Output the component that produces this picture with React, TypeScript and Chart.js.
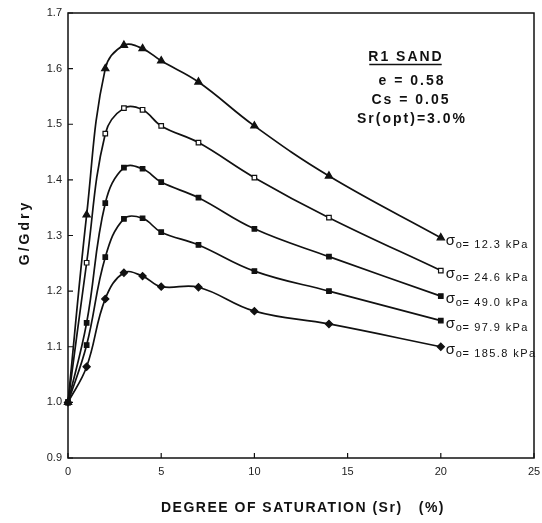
import React, { useEffect, useRef } from "react";
import { Chart, registerables } from "chart.js";

Chart.register(...registerables);

// Degree of saturation Sr (%)
const saturation = [0, 1, 2, 3, 4, 5, 7, 10, 14, 20];

// G/Gdry for each confining stress
const g12_3 = [1.0, 1.337, 1.6, 1.642, 1.636, 1.614, 1.576, 1.497, 1.407, 1.296];
const g24_6 = [1.0, 1.251, 1.483, 1.529, 1.526, 1.497, 1.467, 1.404, 1.332, 1.237];
const g49_0 = [1.0, 1.143, 1.358, 1.422, 1.42, 1.396, 1.368, 1.312, 1.262, 1.191];
const g97_9 = [1.0, 1.103, 1.261, 1.33, 1.331, 1.306, 1.283, 1.236, 1.2, 1.147];
const g185_8 = [1.0, 1.064, 1.186, 1.233, 1.227, 1.208, 1.207, 1.164, 1.141, 1.1];

const stressLabels = ["12.3", "24.6", "49.0", "97.9", "185.8"];
const seriesValues = [g12_3, g24_6, g49_0, g97_9, g185_8];
const markerStyles = ["triangle", "rect", "rect", "rect", "rectRot"];
const markerFills = ["#111", "#fff", "#111", "#111", "#111"];
const markerRadius = [4.2, 3.2, 3.2, 3.2, 3.6];

const xTickValues = [0, 5, 10, 15, 20, 25];
const yTickValues = [0.9, 1.0, 1.1, 1.2, 1.3, 1.4, 1.5, 1.6, 1.7];

const xTitle = "DEGREE OF SATURATION (Sr)   (%)";
const yTitle = "G/Gdry";
const noteLines = ["R1 SAND", "e = 0.58", "Cs = 0.05", "Sr(opt)=3.0%"];

const FONT = "'Liberation Sans', Arial, Helvetica, sans-serif";

const decorPlugin = {
  id: "decor",
  afterDraw(chart: any) {
    const { ctx, chartArea } = chart;
    const { left, top, right, bottom } = chartArea;
    const xs = chart.scales.x;
    const ys = chart.scales.y;
    ctx.save();
    // frame
    ctx.strokeStyle = "#111";
    ctx.lineWidth = 1.5;
    ctx.strokeRect(left, top, right - left, bottom - top);
    // inward ticks
    ctx.lineWidth = 1.2;
    ctx.beginPath();
    for (const v of xTickValues) {
      const px = xs.getPixelForValue(v);
      ctx.moveTo(px, bottom);
      ctx.lineTo(px, bottom - 5);
    }
    for (const v of yTickValues) {
      const py = ys.getPixelForValue(v);
      ctx.moveTo(left, py);
      ctx.lineTo(left + 5, py);
    }
    ctx.stroke();

    ctx.fillStyle = "#111";
    // axis titles
    ctx.textAlign = "center";
    ctx.textBaseline = "middle";
    ctx.font = `bold 14px ${FONT}`;
    (ctx as any).letterSpacing = "1.5px";
    ctx.fillText(xTitle, (left + right) / 2 + 2, 508);
    (ctx as any).letterSpacing = "3px";
    ctx.save();
    ctx.translate(25, (top + bottom) / 2 - 3);
    ctx.rotate(-Math.PI / 2);
    ctx.fillText(yTitle, 0, 0);
    ctx.restore();

    // note block
    ctx.font = `bold 14px ${FONT}`;
    (ctx as any).letterSpacing = "2px";
    const noteX = [406, 412, 411, 412];
    const noteY = [57, 81, 100, 119];
    noteLines.forEach((t, i) => {
      ctx.fillText(t, noteX[i], noteY[i]);
    });
    // underline for title
    const w = ctx.measureText(noteLines[0]).width;
    ctx.lineWidth = 1.4;
    ctx.beginPath();
    ctx.moveTo(noteX[0] - w / 2 + 1, 64.5);
    ctx.lineTo(noteX[0] + w / 2 - 2, 64.5);
    ctx.stroke();

    // series labels at curve ends
    ctx.textAlign = "left";
    ctx.textBaseline = "alphabetic";
    stressLabels.forEach((lab, i) => {
      const meta = chart.getDatasetMeta(i);
      const pt = meta.data[meta.data.length - 1];
      const px = pt.x + 5;
      const py = pt.y;
      (ctx as any).letterSpacing = "0px";
      ctx.font = `15px ${FONT}`;
      ctx.fillText("\u03c3", px, py + 7);
      ctx.font = `11px ${FONT}`;
      (ctx as any).letterSpacing = "0.5px";
      ctx.fillText("o=", px + 10, py + 10);
      (ctx as any).letterSpacing = "1.4px";
      ctx.fillText(" " + lab + " kPa", px + 24, py + 10);
    });
    ctx.restore();
  },
};

export default function App() {
  const ref = useRef<HTMLCanvasElement | null>(null);

  useEffect(() => {
    if (!ref.current) return;
    const datasets = seriesValues.map((vals, i) => ({
      label: stressLabels[i],
      data: saturation.map((s, k) => ({ x: s, y: vals[k] })),
      borderColor: "#111",
      borderWidth: 1.7,
      backgroundColor: markerFills[i],
      pointStyle: markerStyles[i] as any,
      pointRadius: markerRadius[i],
      pointBorderColor: "#111",
      pointBorderWidth: 1.2,
      pointBackgroundColor: markerFills[i],
      tension: 0.4,
      fill: false,
      clip: 10,
    }));

    const chart = new Chart(ref.current, {
      type: "line",
      data: { datasets },
      options: {
        responsive: false,
        animation: false,
        devicePixelRatio: 1,
        layout: { padding: { top: 13, right: 8, left: 0, bottom: 0 } },
        plugins: {
          legend: { display: false },
          tooltip: { enabled: false },
        },
        scales: {
          x: {
            type: "linear",
            min: 0,
            max: 25,
            afterFit: (s: any) => {
              s.height = 65;
              s.paddingLeft = 0;
              s.paddingRight = 0;
            },
            afterBuildTicks: (s: any) => {
              s.ticks = xTickValues.map((v) => ({ value: v }));
            },
            grid: { display: false, drawTicks: false },
            border: { display: false },
            ticks: {
              padding: 7,
              color: "#222",
              font: { family: FONT, size: 11 },
              callback: (v: any) => String(v),
            },
          },
          y: {
            type: "linear",
            min: 0.9,
            max: 1.7,
            afterFit: (s: any) => {
              s.width = 68;
              s.paddingTop = 0;
              s.paddingBottom = 0;
            },
            afterBuildTicks: (s: any) => {
              s.ticks = yTickValues.map((v) => ({ value: v }));
            },
            grid: { display: false, drawTicks: false },
            border: { display: false },
            ticks: {
              padding: 6,
              color: "#222",
              font: { family: FONT, size: 11 },
              callback: (v: any) => Number(v).toFixed(1),
            },
          },
        },
      },
      plugins: [decorPlugin],
    });
    return () => chart.destroy();
  }, []);

  return (
    <div style={{ position: "fixed", left: 0, top: 0, width: 542, height: 523, background: "#fff" }}>
      <canvas ref={ref} width={542} height={523} style={{ display: "block" }} />
    </div>
  );
}
